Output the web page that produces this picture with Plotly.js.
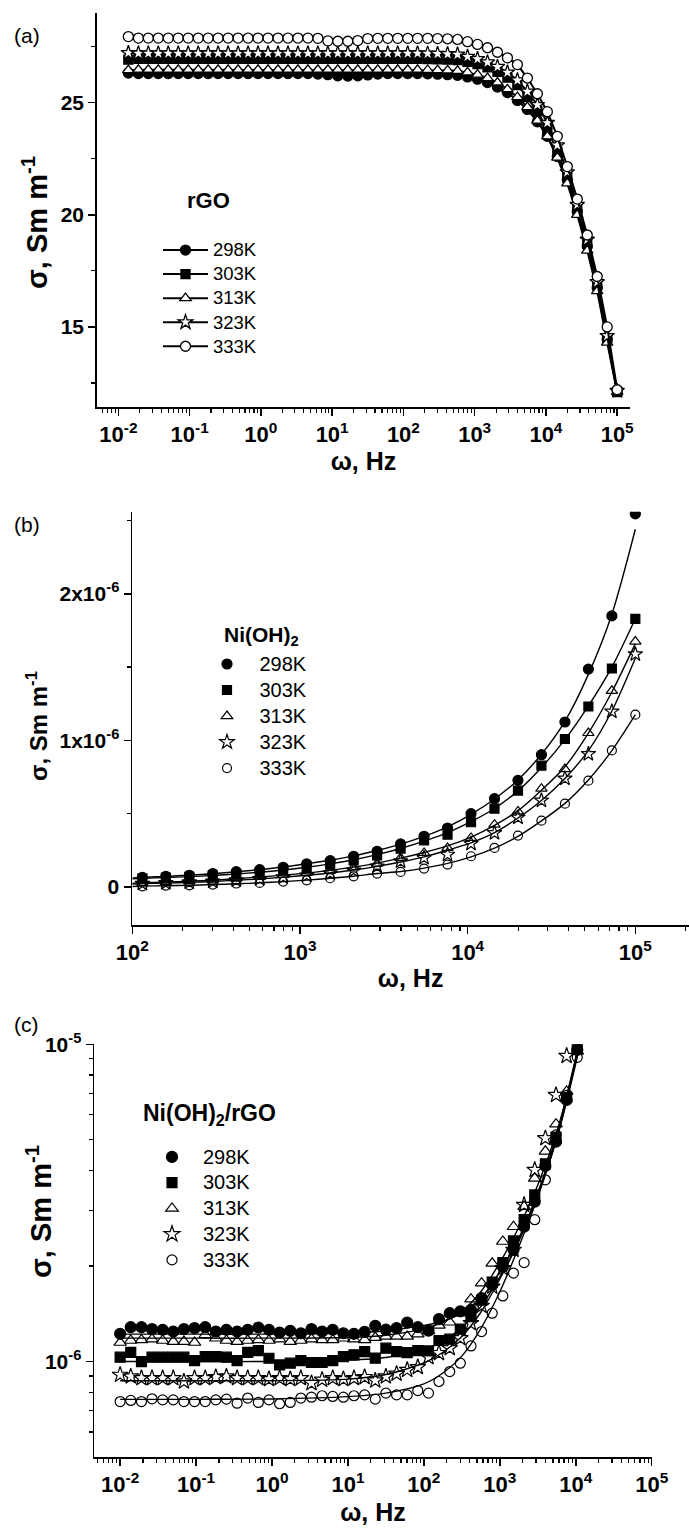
<!DOCTYPE html>
<html><head><meta charset="utf-8">
<script src="https://cdn.plot.ly/plotly-3.0.1.min.js"></script>
<style>html,body{margin:0;padding:0;background:#fff}#chart{width:689px;height:1531px}</style>
</head><body><div id="chart"></div>
<script>
// ---------- DATA ----------
const temps = ['298K','303K','313K','323K','333K'];

// (a) rGO : frequency (Hz) and conductivity (S/m)
const freqA = [0.0138,0.0191,0.0263,0.0363,0.0501,0.0692,0.0955,0.132,0.182,0.251,
  0.347,0.479,0.661,0.912,1.26,1.74,2.40,3.31,4.57,6.31,
  8.71,12.0,16.6,22.9,31.6,43.7,60.3,83.2,115,158,
  219,302,417,575,794,1096,1514,2089,2884,3981,
  5495,7586,10471,14454,19953,27542,38019,52481,72444,100000];
const rGO_298 = [26.32,26.30,26.30,26.30,26.30,26.30,26.30,26.30,26.30,26.30,
  26.30,26.30,26.30,26.30,26.30,26.30,26.30,26.30,26.30,26.28,
  26.25,26.20,26.19,26.20,26.24,26.28,26.30,26.30,26.30,26.30,
  26.29,26.27,26.25,26.22,26.15,26.05,25.90,25.70,25.45,25.10,
  24.70,24.15,23.50,22.60,21.55,20.15,18.60,16.75,14.45,12.15];
const rGO_303 = [26.92,26.95,26.95,26.95,26.95,26.95,26.95,26.95,26.95,26.95,
  26.95,26.95,26.95,26.95,26.95,26.95,26.95,26.95,26.95,26.95,
  26.95,26.95,26.95,26.95,26.95,26.95,26.95,26.95,26.95,26.95,
  26.94,26.93,26.92,26.90,26.82,26.72,26.58,26.38,26.12,25.78,
  25.25,24.62,23.82,22.82,21.70,20.25,18.70,16.90,14.50,12.10];
const rGO_313 = [26.45,26.47,26.47,26.47,26.47,26.47,26.47,26.47,26.47,26.47,
  26.47,26.47,26.47,26.47,26.47,26.47,26.47,26.47,26.47,26.47,
  26.47,26.47,26.47,26.47,26.47,26.47,26.47,26.47,26.47,26.47,
  26.46,26.45,26.44,26.42,26.35,26.25,26.10,25.90,25.60,25.25,
  24.80,24.20,23.50,22.55,21.40,20.00,18.40,16.60,14.30,12.10];
const rGO_323 = [27.22,27.20,27.20,27.20,27.20,27.20,27.20,27.20,27.20,27.20,
  27.20,27.20,27.20,27.20,27.20,27.20,27.20,27.20,27.20,27.20,
  27.20,27.20,27.20,27.20,27.20,27.20,27.20,27.20,27.20,27.20,
  27.19,27.18,27.17,27.15,27.05,26.95,26.80,26.60,26.35,26.00,
  25.50,24.90,24.10,23.10,21.90,20.45,18.90,17.00,14.60,12.15];
const rGO_333 = [27.95,27.88,27.88,27.88,27.88,27.88,27.88,27.88,27.88,27.88,
  27.88,27.88,27.88,27.88,27.88,27.88,27.88,27.88,27.88,27.87,
  27.76,27.74,27.74,27.77,27.86,27.87,27.87,27.87,27.87,27.87,
  27.87,27.86,27.85,27.82,27.72,27.60,27.45,27.25,27.00,26.70,
  26.10,25.40,24.60,23.50,22.15,20.70,19.10,17.25,15.00,12.20];

// (b) Ni(OH)2
const freqB = [114.8,158.5,218.8,302,417,575,794,1096,1514,2089,2884,3981,5495,7586,10471,14454,19953,27542,38019,52481,72444,100000];
const ni_298 = [0.065e-6,0.072e-6,0.079e-6,0.091e-6,0.104e-6,0.118e-6,0.134e-6,0.157e-6,0.179e-6,0.209e-6,0.243e-6,0.293e-6,0.345e-6,0.402e-6,0.500e-6,0.602e-6,0.727e-6,0.902e-6,1.125e-6,1.486e-6,1.849e-6,2.545e-6];
const ni_303 = [0.058e-6,0.063e-6,0.069e-6,0.077e-6,0.087e-6,0.098e-6,0.112e-6,0.130e-6,0.152e-6,0.180e-6,0.215e-6,0.261e-6,0.318e-6,0.357e-6,0.441e-6,0.534e-6,0.657e-6,0.827e-6,1.009e-6,1.231e-6,1.490e-6,1.829e-6];
const ni_313 = [0.027e-6,0.032e-6,0.039e-6,0.045e-6,0.057e-6,0.068e-6,0.082e-6,0.095e-6,0.111e-6,0.134e-6,0.159e-6,0.198e-6,0.232e-6,0.266e-6,0.334e-6,0.425e-6,0.515e-6,0.670e-6,0.804e-6,1.050e-6,1.338e-6,1.674e-6];
const ni_323 = [0.022e-6,0.026e-6,0.031e-6,0.037e-6,0.045e-6,0.054e-6,0.066e-6,0.078e-6,0.093e-6,0.112e-6,0.140e-6,0.175e-6,0.198e-6,0.220e-6,0.295e-6,0.368e-6,0.474e-6,0.590e-6,0.740e-6,0.907e-6,1.197e-6,1.588e-6];
const ni_333 = [0.004e-6,0.009e-6,0.011e-6,0.016e-6,0.023e-6,0.027e-6,0.036e-6,0.045e-6,0.059e-6,0.072e-6,0.091e-6,0.102e-6,0.125e-6,0.152e-6,0.209e-6,0.266e-6,0.350e-6,0.452e-6,0.568e-6,0.725e-6,0.931e-6,1.175e-6];
// fitted curves (b)
const fitFreqB = [100,114.8,158.5,218.8,302,417,575,794,1096,1514,2089,2884,3981,5495,7586,10471,14454,19953,27542,38019,52481,72444,100000];
const niFit_298 = [0.060e-6,0.066e-6,0.072e-6,0.080e-6,0.090e-6,0.103e-6,0.118e-6,0.136e-6,0.158e-6,0.182e-6,0.212e-6,0.248e-6,0.292e-6,0.345e-6,0.410e-6,0.495e-6,0.600e-6,0.730e-6,0.905e-6,1.130e-6,1.450e-6,1.860e-6,2.440e-6];
const niFit_303 = [0.055e-6,0.059e-6,0.064e-6,0.070e-6,0.078e-6,0.088e-6,0.100e-6,0.115e-6,0.134e-6,0.157e-6,0.185e-6,0.220e-6,0.262e-6,0.312e-6,0.370e-6,0.445e-6,0.535e-6,0.655e-6,0.815e-6,1.005e-6,1.235e-6,1.500e-6,1.830e-6];
const niFit_313 = [0.024e-6,0.028e-6,0.033e-6,0.039e-6,0.046e-6,0.056e-6,0.067e-6,0.080e-6,0.095e-6,0.113e-6,0.135e-6,0.162e-6,0.196e-6,0.235e-6,0.280e-6,0.340e-6,0.420e-6,0.520e-6,0.660e-6,0.820e-6,1.050e-6,1.330e-6,1.660e-6];
const niFit_323 = [0.019e-6,0.022e-6,0.026e-6,0.031e-6,0.037e-6,0.045e-6,0.054e-6,0.066e-6,0.079e-6,0.095e-6,0.115e-6,0.140e-6,0.170e-6,0.205e-6,0.250e-6,0.300e-6,0.370e-6,0.470e-6,0.590e-6,0.740e-6,0.930e-6,1.200e-6,1.560e-6];
const niFit_333 = [0.003e-6,0.005e-6,0.008e-6,0.011e-6,0.016e-6,0.021e-6,0.028e-6,0.036e-6,0.046e-6,0.059e-6,0.073e-6,0.091e-6,0.105e-6,0.128e-6,0.160e-6,0.205e-6,0.265e-6,0.345e-6,0.450e-6,0.570e-6,0.730e-6,0.930e-6,1.175e-6];

// (c) Ni(OH)2/rGO
const freqC = [0.01,0.0138,0.0191,0.0263,0.0363,0.0501,0.0692,0.0955,0.132,0.182,0.251,
  0.347,0.479,0.661,0.912,1.26,1.74,2.40,3.31,4.57,6.31,
  8.71,12.0,16.6,22.9,31.6,43.7,60.3,83.2,115,158,
  219,302,417,575,794,1096,1514,2089,2884,3981,
  5495,7586,10471];
const nr_298 = [1.223e-6,1.283e-6,1.283e-6,1.265e-6,1.259e-6,1.243e-6,1.265e-6,1.274e-6,1.283e-6,1.243e-6,1.259e-6,1.243e-6,1.259e-6,1.280e-6,1.259e-6,1.234e-6,1.250e-6,1.228e-6,1.265e-6,1.243e-6,1.259e-6,1.228e-6,1.223e-6,
  1.240e-6,1.296e-6,1.260e-6,1.274e-6,1.327e-6,1.283e-6,1.252e-6,1.360e-6,1.420e-6,1.440e-6,1.454e-6,1.584e-6,1.744e-6,1.991e-6,2.249e-6,2.662e-6,3.190e-6,4.136e-6,4.932e-6,6.674e-6,9.600e-6];
const nr_303 = [1.032e-6,1.068e-6,1.000e-6,1.032e-6,1.032e-6,1.032e-6,1.032e-6,1.007e-6,1.037e-6,1.037e-6,1.032e-6,1.007e-6,1.068e-6,1.083e-6,1.024e-6,0.976e-6,0.988e-6,1.007e-6,0.993e-6,0.993e-6,1.007e-6,1.037e-6,1.050e-6,
  1.075e-6,1.025e-6,1.102e-6,1.075e-6,1.067e-6,1.083e-6,1.080e-6,1.165e-6,1.176e-6,1.265e-6,1.386e-6,1.560e-6,1.780e-6,2.050e-6,2.400e-6,2.800e-6,3.350e-6,4.200e-6,5.100e-6,6.800e-6,9.800e-6];
const nr_313 = [1.148e-6,1.165e-6,1.170e-6,1.176e-6,1.165e-6,1.156e-6,1.156e-6,1.148e-6,1.214e-6,1.184e-6,1.165e-6,1.156e-6,1.165e-6,1.170e-6,1.165e-6,1.176e-6,1.156e-6,1.165e-6,1.176e-6,1.170e-6,1.170e-6,1.184e-6,1.176e-6,
  1.170e-6,1.190e-6,1.200e-6,1.200e-6,1.200e-6,1.220e-6,1.250e-6,1.300e-6,1.330e-6,1.420e-6,1.573e-6,1.766e-6,2.040e-6,2.390e-6,2.660e-6,3.080e-6,3.780e-6,4.600e-6,5.600e-6,7.100e-6,9.500e-6];
const nr_323 = [0.908e-6,0.897e-6,0.886e-6,0.886e-6,0.886e-6,0.886e-6,0.865e-6,0.886e-6,0.886e-6,0.893e-6,0.897e-6,0.886e-6,0.886e-6,0.886e-6,0.880e-6,0.886e-6,0.880e-6,0.886e-6,0.855e-6,0.876e-6,0.886e-6,0.880e-6,0.886e-6,
  0.893e-6,0.871e-6,0.897e-6,0.915e-6,0.941e-6,0.960e-6,1.032e-6,1.063e-6,1.102e-6,1.185e-6,1.321e-6,1.498e-6,1.722e-6,1.968e-6,2.249e-6,3.116e-6,4.018e-6,5.056e-6,6.920e-6,9.190e-6,null];
const nr_333 = [0.748e-6,0.754e-6,0.748e-6,0.763e-6,0.757e-6,0.757e-6,0.748e-6,0.748e-6,0.748e-6,0.757e-6,0.761e-6,0.739e-6,0.767e-6,0.743e-6,0.757e-6,0.736e-6,0.743e-6,0.767e-6,0.772e-6,0.780e-6,0.776e-6,0.772e-6,0.780e-6,
  0.785e-6,0.761e-6,0.795e-6,0.785e-6,0.785e-6,0.810e-6,0.795e-6,0.865e-6,0.930e-6,0.988e-6,1.120e-6,1.243e-6,1.420e-6,1.610e-6,1.900e-6,2.050e-6,2.800e-6,3.740e-6,5.180e-6,6.900e-6,9.100e-6];
// fitted curves (c)
const fitFreqC = [0.01,0.1,1,10,31.6,100,178,316,562,1000,1778,3162,5623,10000,12000];
const nrFit_298 = [1.22e-6,1.22e-6,1.22e-6,1.23e-6,1.25e-6,1.30e-6,1.34e-6,1.42e-6,1.58e-6,1.92e-6,2.45e-6,3.40e-6,5.10e-6,8.90e-6,11.0e-6];
const nrFit_303 = [1.00e-6,1.00e-6,1.00e-6,1.01e-6,1.03e-6,1.09e-6,1.16e-6,1.28e-6,1.49e-6,1.85e-6,2.40e-6,3.35e-6,5.05e-6,8.90e-6,11.0e-6];
const nrFit_313 = [1.185e-6,1.185e-6,1.185e-6,1.19e-6,1.21e-6,1.27e-6,1.33e-6,1.44e-6,1.66e-6,2.05e-6,2.65e-6,3.60e-6,5.30e-6,9.00e-6,11.1e-6];
const nrFit_323 = [0.87e-6,0.87e-6,0.87e-6,0.88e-6,0.91e-6,0.99e-6,1.07e-6,1.20e-6,1.43e-6,1.82e-6,2.40e-6,3.40e-6,5.20e-6,9.10e-6,11.2e-6];
const nrFit_333 = [0.76e-6,0.76e-6,0.762e-6,0.775e-6,0.795e-6,0.85e-6,0.92e-6,1.04e-6,1.27e-6,1.66e-6,2.30e-6,3.30e-6,5.05e-6,8.70e-6,10.7e-6];

// tick labels
const tickA = [0.01,0.1,1,10,100,1000,10000,100000];
const tickTextA = ['10<sup>-2</sup>','10<sup>-1</sup>','10<sup>0</sup>','10<sup>1</sup>','10<sup>2</sup>','10<sup>3</sup>','10<sup>4</sup>','10<sup>5</sup>'];
const tickB = [100,1000,10000,100000];
const tickTextB = ['10<sup>2</sup>','10<sup>3</sup>','10<sup>4</sup>','10<sup>5</sup>'];
const yTickA = [15,20,25];
const yTickTextA = ['15','20','25'];
const yTickB = [0,1e-6,2e-6];
const yTickTextB = ['0','1x10<sup>-6</sup>','2x10<sup>-6</sup>'];
const yTickC = [1e-6,1e-5];
const yTickTextC = ['10<sup>-6</sup>','10<sup>-5</sup>'];

// ---------- STYLE ----------
const W = 689, H = 1531;
const FONT = 'Liberation Sans, Arial, Helvetica, sans-serif';
const px = v => v / W, py = v => 1 - v / H;
const symA = [
  {symbol:'circle', size:10, color:'#000'},
  {symbol:'square', size:9, color:'#000'},
  {symbol:'triangle-up', size:10, color:'#fff'},
  {symbol:'star', size:11, color:'#fff'},
  {symbol:'circle', size:10, color:'#fff'}];
const symOpen = [
  {symbol:'circle', size:10},
  {symbol:'square', size:9},
  {symbol:'triangle-up-open', size:10},
  {symbol:'star-open', size:11},
  {symbol:'circle-open', size:9}];

const rgoSeries = [rGO_298, rGO_303, rGO_313, rGO_323, rGO_333];
const niSeries = [ni_298, ni_303, ni_313, ni_323, ni_333];
const niFits = [niFit_298, niFit_303, niFit_313, niFit_323, niFit_333];
const nrSeries = [nr_298, nr_303, nr_313, nr_323, nr_333];
const nrFits = [nrFit_298, nrFit_303, nrFit_313, nrFit_323, nrFit_333];
const legName = (t, sz) => '<span style="font-size:' + sz + 'px">' + t + '</span>';

const traces = [];
rgoSeries.forEach((ys, i) => traces.push({
  x: freqA, y: ys, xaxis:'x', yaxis:'y', mode:'lines+markers', name: legName(temps[i], 18.5),
  legend:'legend', legendgroup:'a'+i,
  line:{color:'#000', width:2},
  marker:{symbol:symA[i].symbol, size:symA[i].size, color:symA[i].color, line:{color:'#000', width:1.3}}
}));
niFits.forEach((ys, i) => traces.push({
  x: fitFreqB, y: ys, xaxis:'x2', yaxis:'y2', mode:'lines', showlegend:false,
  line:{color:'#000', width:1.4, shape:'spline', smoothing:0.8}
}));
niSeries.forEach((ys, i) => traces.push({
  x: freqB, y: ys, xaxis:'x2', yaxis:'y2', mode:'markers', name: legName(temps[i], 20),
  legend:'legend2', legendgroup:'b'+i,
  marker:{symbol:symOpen[i].symbol, size:symOpen[i].size, color:'#000', line:{color:'#000', width:1.2}}
}));
nrFits.forEach((ys, i) => traces.push({
  x: fitFreqC, y: ys, xaxis:'x3', yaxis:'y3', mode:'lines', showlegend:false,
  line:{color:'#000', width:1.4, shape:'spline', smoothing:0.8}
}));
nrSeries.forEach((ys, i) => traces.push({
  x: freqC, y: ys, xaxis:'x3', yaxis:'y3', mode:'markers', name: legName(temps[i], 20),
  legend:'legend3', legendgroup:'c'+i,
  marker:{symbol:symOpen[i].symbol, size:symOpen[i].size+1, color:'#000', line:{color:'#000', width:1.2}}
}));

const axBase = {
  showgrid:false, zeroline:false, showline:true, linecolor:'#000', linewidth:1.8,
  mirror:false, ticks:'outside', ticklen:7, tickwidth:1.5, tickcolor:'#000',
  tickfont:{family:FONT, size:22, weight:'bold', color:'#000'}, tickmode:'array'
};
const yTickFont = {family:FONT, size:21, weight:'bold', color:'#000'};
const logMinor = {ticks:'outside', ticklen:4, tickwidth:1.2, tickcolor:'#000', dtick:'D1', showgrid:false};
const xTitle = (st) => ({text:'ω, Hz', font:{family:FONT, size:25, weight:'bold', color:'#000'}, standoff:st});
const legBase = {bgcolor:'rgba(0,0,0,0)', borderwidth:0, xanchor:'left', yanchor:'top', tracegroupgap:0, itemsizing:'trace', traceorder:'normal'};
const yTitleAnn = (x, y, sz) => ({xref:'paper', yref:'paper', x:px(x), y:py(y), xanchor:'center', yanchor:'middle',
  showarrow:false, textangle:-90, text:'σ, Sm m<sup>-1</sup>', font:{family:FONT, size:sz, weight:'bold', color:'#000'}});

const layout = {
  width:W, height:H, margin:{l:0, r:0, t:0, b:0},
  paper_bgcolor:'#fff', plot_bgcolor:'rgba(0,0,0,0)',
  font:{family:FONT, color:'#000'},
  showlegend:true,
  xaxis: Object.assign({}, axBase, {type:'log', anchor:'y', domain:[px(97), px(630)], range:[-2.30, 5.18],
    tickvals:tickA, ticktext:tickTextA, minor:logMinor, title:xTitle(3)}),
  yaxis: Object.assign({}, axBase, {anchor:'x', domain:[py(407), py(13)], range:[11.43, 29],
    tickvals:yTickA, ticktext:yTickTextA, tickfont:yTickFont,
    minor:{ticks:'outside', ticklen:4, tickwidth:1.2, tickcolor:'#000', dtick:2.5, tick0:0, showgrid:false}}),
  xaxis2: Object.assign({}, axBase, {type:'log', anchor:'y2', domain:[px(132.3), 1], range:[2, 5.32],
    tickvals:tickB, ticktext:tickTextB, minor:logMinor, title:xTitle(5)}),
  yaxis2: Object.assign({}, axBase, {anchor:'x2', domain:[py(925), py(511.7)], range:[-0.26e-6, 2.56e-6],
    tickvals:yTickB, ticktext:yTickTextB, tickfont:yTickFont,
    minor:{ticks:'outside', ticklen:4, tickwidth:1.2, tickcolor:'#000', dtick:0.5e-6, tick0:0, showgrid:false}}),
  xaxis3: Object.assign({}, axBase, {type:'log', anchor:'y3', domain:[px(94.3), px(651.7)], range:[-2.34, 5],
    tickvals:tickA, ticktext:tickTextA, minor:logMinor, title:xTitle(7)}),
  yaxis3: Object.assign({}, axBase, {type:'log', anchor:'x3', domain:[py(1456.7), py(1044.3)], range:[-6.30, -5],
    tickvals:yTickC, ticktext:yTickTextC, tickfont:yTickFont, minor:logMinor}),
  legend: Object.assign({}, legBase, {x:px(158), y:py(233), itemwidth:45, font:{family:FONT, size:16.2, color:'#000'}}),
  legend2: Object.assign({}, legBase, {x:px(194.5), y:py(646), itemwidth:55, font:{family:FONT, size:17.7, color:'#000'}}),
  legend3: Object.assign({}, legBase, {x:px(141), y:py(1139), itemwidth:52, font:{family:FONT, size:17.5, color:'#000'}}),
  annotations: [
    {xref:'paper', yref:'paper', x:px(12), y:py(35), xanchor:'left', yanchor:'middle', showarrow:false, text:'(a)', font:{family:FONT, size:21, color:'#000'}},
    {xref:'paper', yref:'paper', x:px(12), y:py(524), xanchor:'left', yanchor:'middle', showarrow:false, text:'(b)', font:{family:FONT, size:21, color:'#000'}},
    {xref:'paper', yref:'paper', x:px(12), y:py(1024), xanchor:'left', yanchor:'middle', showarrow:false, text:'(c)', font:{family:FONT, size:21, color:'#000'}},
    {xref:'paper', yref:'paper', x:px(185), y:py(200), xanchor:'left', yanchor:'middle', showarrow:false, text:'rGO', font:{family:FONT, size:22, weight:'bold', color:'#000'}},
    {xref:'paper', yref:'paper', x:px(222), y:py(636), xanchor:'left', yanchor:'middle', showarrow:false, text:'Ni(OH)<sub>2</sub>', font:{family:FONT, size:21, weight:'bold', color:'#000'}},
    {xref:'paper', yref:'paper', x:px(141), y:py(1114), xanchor:'left', yanchor:'middle', showarrow:false, text:'Ni(OH)<sub>2</sub>/rGO', font:{family:FONT, size:23, weight:'bold', color:'#000'}},
    yTitleAnn(35, 223, 29),
    yTitleAnn(37, 726, 24),
    yTitleAnn(39, 1212, 29)
  ]
};

Plotly.newPlot('chart', traces, layout, {staticPlot:true, displayModeBar:false});
</script>
</body></html>
